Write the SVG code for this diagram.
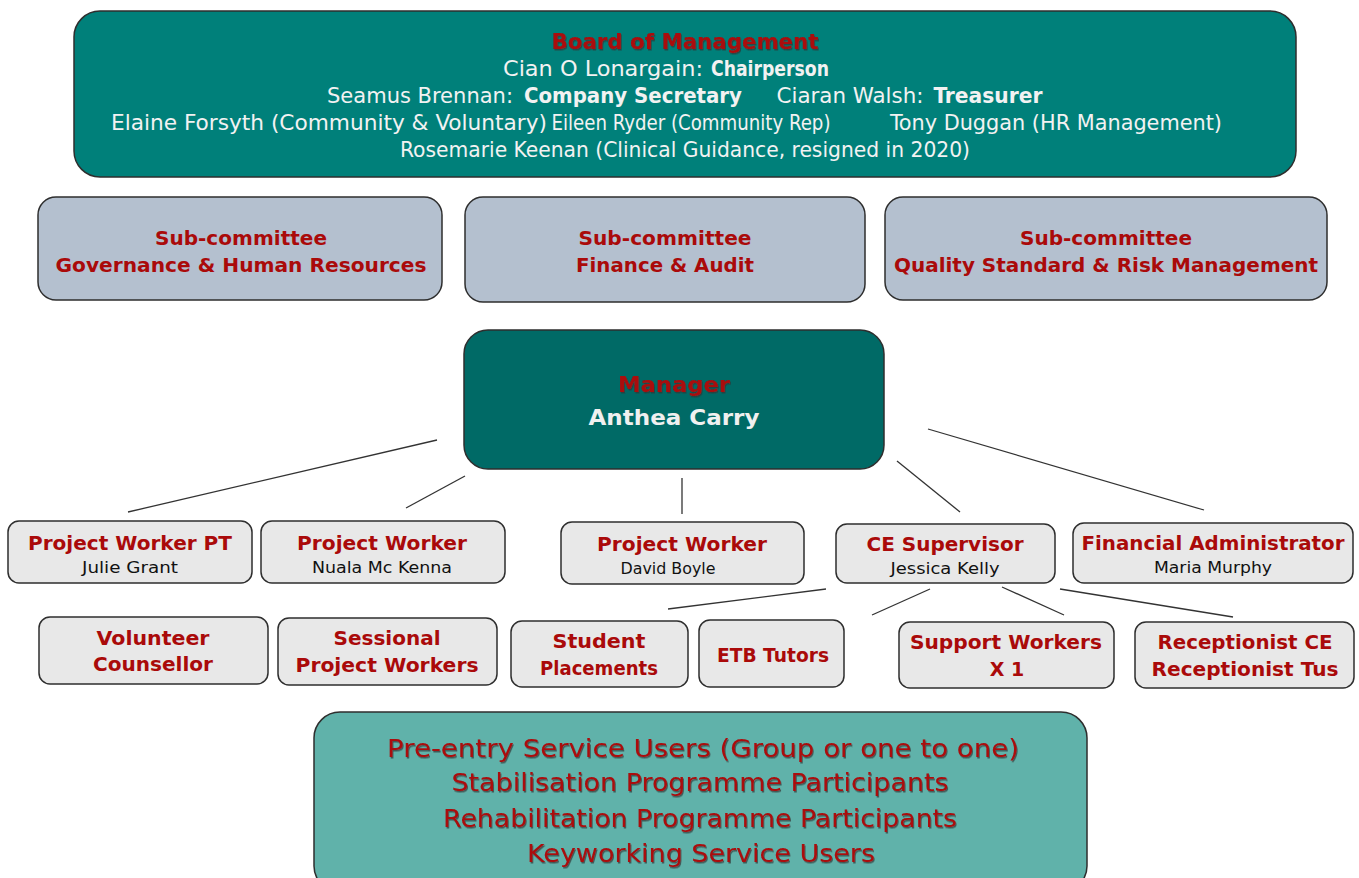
<svg xmlns="http://www.w3.org/2000/svg" width="1359" height="878" viewBox="0 0 1359 878">
<defs>
<filter id="sh" x="-5%" y="-20%" width="110%" height="150%"><feDropShadow dx="1" dy="1.5" stdDeviation="0.6" flood-color="#333" flood-opacity="0.7"/></filter>
<style>
.box{stroke:#2e2e2e;stroke-width:1.5}
.board{fill:#00807a}
.mgr{fill:#006a66}
.sub{fill:#b4c0cf}
.gray{fill:#e8e8e8}
.users{fill:#60b2aa}
text{text-anchor:middle;font-family:"DejaVu Sans",Verdana,sans-serif}
.rb{fill:#aa0a0a;font-weight:bold;font-size:19px}
.nm{fill:#111;font-size:16px}
.bw{fill:#f2f2f2;font-size:20.5px;font-family:"DejaVu Sans Condensed","DejaVu Sans",sans-serif}
.bwb{font-weight:bold}
.ut{fill:#aa0a0a;font-size:25px}
.conn line{stroke:#333;stroke-width:1.3}
</style>
</defs>
<rect width="1359" height="878" fill="#ffffff"/>

<g id="board">
<rect class="box board" x="74" y="11" width="1222" height="166" rx="26"/>
<text class="rb" x="685" y="49" textLength="267" lengthAdjust="spacingAndGlyphs" filter="url(#sh)" style="font-size:21px;font-family:'DejaVu Sans Condensed','DejaVu Sans',sans-serif">Board of Management</text>
<text class="bw" x="603" y="76" textLength="200" lengthAdjust="spacingAndGlyphs">Cian O Lonargain:</text>
<text class="bw bwb" x="770" y="76" textLength="118" lengthAdjust="spacingAndGlyphs">Chairperson</text>
<text class="bw" x="420" y="103" textLength="186" lengthAdjust="spacingAndGlyphs">Seamus Brennan:</text>
<text class="bw bwb" x="633" y="103" textLength="218" lengthAdjust="spacingAndGlyphs">Company Secretary</text>
<text class="bw" x="850" y="103" textLength="147" lengthAdjust="spacingAndGlyphs">Ciaran Walsh:</text>
<text class="bw bwb" x="988" y="103" textLength="109" lengthAdjust="spacingAndGlyphs">Treasurer</text>
<text class="bw" x="329" y="130" textLength="436" lengthAdjust="spacingAndGlyphs">Elaine Forsyth (Community &amp; Voluntary)</text>
<text class="bw" x="691" y="130" textLength="279" lengthAdjust="spacingAndGlyphs">Eileen Ryder (Community Rep)</text>
<text class="bw" x="1056" y="130" textLength="332" lengthAdjust="spacingAndGlyphs">Tony Duggan (HR Management)</text>
<text class="bw" x="685" y="157" textLength="570" lengthAdjust="spacingAndGlyphs">Rosemarie Keenan (Clinical Guidance, resigned in 2020)</text>
</g>

<g id="sub-governance">
<rect class="box sub" x="38" y="197" width="404" height="103" rx="18"/>
<text class="rb" x="241" y="245" textLength="172" lengthAdjust="spacingAndGlyphs">Sub-committee</text>
<text class="rb" x="241" y="272" textLength="371" lengthAdjust="spacingAndGlyphs">Governance &amp; Human Resources</text>
</g>
<g id="sub-finance">
<rect class="box sub" x="465" y="197" width="400" height="105" rx="18"/>
<text class="rb" x="665" y="245" textLength="173" lengthAdjust="spacingAndGlyphs">Sub-committee</text>
<text class="rb" x="665" y="272" textLength="178" lengthAdjust="spacingAndGlyphs">Finance &amp; Audit</text>
</g>
<g id="sub-quality">
<rect class="box sub" x="885" y="197" width="442" height="103" rx="18"/>
<text class="rb" x="1106" y="245" textLength="172" lengthAdjust="spacingAndGlyphs">Sub-committee</text>
<text class="rb" x="1106" y="272" textLength="424" lengthAdjust="spacingAndGlyphs">Quality Standard &amp; Risk Management</text>
</g>

<g id="manager">
<rect class="box mgr" x="464" y="330" width="420" height="139" rx="24"/>
<text class="rb" x="674" y="392" style="font-size:22px" textLength="112" lengthAdjust="spacingAndGlyphs" filter="url(#sh)">Manager</text>
<text x="674" y="425" style="fill:#f0f0f0;font-weight:bold;font-size:22px" textLength="171" lengthAdjust="spacingAndGlyphs">Anthea Carry</text>
</g>

<g id="connectors" class="conn">
<line x1="437" y1="440" x2="128" y2="512"/>
<line x1="465" y1="476" x2="406" y2="508"/>
<line x1="682" y1="478" x2="682" y2="514"/>
<line x1="897" y1="461" x2="960" y2="512"/>
<line x1="928" y1="429" x2="1204" y2="510"/>
<line x1="826" y1="589" x2="668" y2="609"/>
<line x1="930" y1="589" x2="872" y2="615"/>
<line x1="1002" y1="587" x2="1064" y2="615"/>
<line x1="1060" y1="589" x2="1233" y2="617"/>
</g>

<g id="pw-pt">
<rect class="box gray" x="8" y="521" width="244" height="62" rx="11"/>
<text class="rb" x="130" y="550" textLength="204" lengthAdjust="spacingAndGlyphs">Project Worker PT</text>
<text class="nm" x="130" y="573" textLength="96" lengthAdjust="spacingAndGlyphs">Julie Grant</text>
</g>
<g id="pw-nuala">
<rect class="box gray" x="261" y="521" width="244" height="62" rx="11"/>
<text class="rb" x="382" y="550" textLength="170" lengthAdjust="spacingAndGlyphs">Project Worker</text>
<text class="nm" x="382" y="573" textLength="140" lengthAdjust="spacingAndGlyphs">Nuala Mc Kenna</text>
</g>
<g id="pw-david">
<rect class="box gray" x="561" y="522" width="243" height="62" rx="11"/>
<text class="rb" x="682" y="551" textLength="170" lengthAdjust="spacingAndGlyphs">Project Worker</text>
<text class="nm" x="668" y="574" textLength="95" lengthAdjust="spacingAndGlyphs">David Boyle</text>
</g>
<g id="ce-supervisor">
<rect class="box gray" x="836" y="524" width="219" height="59" rx="11"/>
<text class="rb" x="945" y="551" textLength="157" lengthAdjust="spacingAndGlyphs">CE Supervisor</text>
<text class="nm" x="945" y="574" textLength="109" lengthAdjust="spacingAndGlyphs">Jessica Kelly</text>
</g>
<g id="fin-admin">
<rect class="box gray" x="1073" y="523" width="280" height="60" rx="11"/>
<text class="rb" x="1213" y="550" textLength="263" lengthAdjust="spacingAndGlyphs">Financial Administrator</text>
<text class="nm" x="1213" y="573" textLength="118" lengthAdjust="spacingAndGlyphs">Maria Murphy</text>
</g>

<g id="volunteer">
<rect class="box gray" x="39" y="617" width="229" height="67" rx="11"/>
<text class="rb" x="153" y="645" textLength="113" lengthAdjust="spacingAndGlyphs">Volunteer</text>
<text class="rb" x="153" y="671" textLength="120" lengthAdjust="spacingAndGlyphs">Counsellor</text>
</g>
<g id="sessional">
<rect class="box gray" x="278" y="618" width="219" height="67" rx="11"/>
<text class="rb" x="387" y="645" textLength="107" lengthAdjust="spacingAndGlyphs">Sessional</text>
<text class="rb" x="387" y="672" textLength="183" lengthAdjust="spacingAndGlyphs">Project Workers</text>
</g>
<g id="student">
<rect class="box gray" x="511" y="621" width="177" height="66" rx="11"/>
<text class="rb" x="599" y="648" textLength="93" lengthAdjust="spacingAndGlyphs">Student</text>
<text class="rb" x="599" y="675" textLength="118" lengthAdjust="spacingAndGlyphs">Placements</text>
</g>
<g id="etb">
<rect class="box gray" x="699" y="620" width="145" height="67" rx="11"/>
<text class="rb" x="773" y="662" textLength="112" lengthAdjust="spacingAndGlyphs">ETB Tutors</text>
</g>
<g id="support">
<rect class="box gray" x="899" y="622" width="215" height="66" rx="11"/>
<text class="rb" x="1006" y="649" textLength="192" lengthAdjust="spacingAndGlyphs">Support Workers</text>
<text class="rb" x="1007" y="676">X 1</text>
</g>
<g id="receptionist">
<rect class="box gray" x="1135" y="622" width="219" height="66" rx="11"/>
<text class="rb" x="1245" y="649" textLength="175" lengthAdjust="spacingAndGlyphs">Receptionist CE</text>
<text class="rb" x="1245" y="676" textLength="187" lengthAdjust="spacingAndGlyphs">Receptionist Tus</text>
</g>

<g id="service-users">
<rect class="box users" x="314" y="712" width="773" height="180" rx="26"/>
<text class="ut" x="703" y="757" textLength="632" lengthAdjust="spacingAndGlyphs" filter="url(#sh)">Pre-entry Service Users (Group or one to one)</text>
<text class="ut" x="700" y="791" textLength="497" lengthAdjust="spacingAndGlyphs" filter="url(#sh)">Stabilisation Programme Participants</text>
<text class="ut" x="700" y="827" textLength="514" lengthAdjust="spacingAndGlyphs" filter="url(#sh)">Rehabilitation Programme Participants</text>
<text class="ut" x="701" y="862" textLength="348" lengthAdjust="spacingAndGlyphs" filter="url(#sh)">Keyworking Service Users</text>
</g>
</svg>
